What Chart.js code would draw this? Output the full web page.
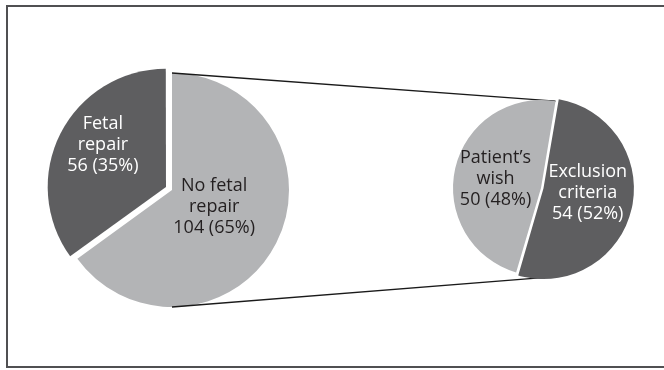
<!DOCTYPE html>
<html>
<head>
<meta charset="utf-8">
<script src="https://cdn.jsdelivr.net/npm/chart.js@4.4.0/dist/chart.umd.min.js"></script>
<style>
body{margin:0;background:#fff;overflow:hidden;}
#wrap{position:relative;width:664px;height:370px;overflow:hidden;}
#wrap canvas{position:absolute;left:0;top:0;}
#frame{position:absolute;left:6px;top:5px;width:680px;height:363px;border:2px solid #505052;box-sizing:border-box;}
</style>
</head>
<body>
<div id="wrap">
  <div id="frame"></div>
  <canvas id="allPie" width="664" height="370"></canvas>
  <canvas id="whyPie" width="664" height="370"></canvas>
</div>
<script>
// all cases
const allLabels=["No fetal\nrepair","Fetal\nrepair"];
const allCounts=[104,56];
const allPct=[65,35];

// no fetal repair, split by reason
const whyLabels=["Exclusion\ncriteria","Patient\u2019s\nwish"];
const whyCounts=[54,50];
const whyPct=[52,48];

const DARK="#5e5e60";
const LIGHT="#b3b4b6";
const INK="#231f20";

// text inside the slices, placed from each arc's centre point
const sliceText={
    id:"sliceText",
    afterDatasetsDraw(chart,args,opts){
        const c=chart.ctx;
        const arcs=chart.getDatasetMeta(0).data;
        const values=chart.data.datasets[0].data;
        c.save();
        c.font="18px 'Open Sans'";
        c.textAlign="center";
        c.textBaseline="middle";
        arcs.forEach((arc,i)=>{
            const p=arc.tooltipPosition();
            const lines=chart.data.labels[i].split("\n");
            lines.push(values[i]+" ("+opts.pct[i]+"%)");
            const cx=p.x+opts.shift[i][0];
            const cy=p.y+opts.shift[i][1];
            c.fillStyle=opts.color[i];
            lines.forEach((t,j)=>{
                c.fillText(t,cx,cy+(j-(lines.length-1)/2)*21);
            });
        });
        c.restore();
    }
};

function arcShift(arc){
    const o=arc.options.offset||0;
    const fix=1-Math.sin(Math.min(Math.PI,arc.circumference||(arc.endAngle-arc.startAngle)));
    const d=o/4*(1+fix);
    const h=(arc.startAngle+arc.endAngle)/2;
    return {x:Math.cos(h)*d,y:Math.sin(h)*d};
}

let allChart;

// lines joining the big pie to the breakdown pie
const connector={
    id:"connector",
    beforeDatasetsDraw(chart){
        if(!allChart) return;
        const a=allChart.getDatasetMeta(0).data[0];
        const b=chart.getDatasetMeta(0).data;
        const c=chart.ctx;
        const top0={x:a.x+a.outerRadius*Math.cos(a.startAngle),y:a.y+a.outerRadius*Math.sin(a.startAngle)};
        const bot0={x:a.x,y:a.y+a.outerRadius};
        const lt=b[1];
        const top1={x:lt.x+lt.outerRadius*Math.cos(lt.endAngle),y:lt.y+lt.outerRadius*Math.sin(lt.endAngle)};
        const dk=b[0];
        const s=arcShift(dk);
        const ang=Math.PI/2-4*Math.PI/180;
        const bot1={x:dk.x+s.x+dk.outerRadius*Math.cos(ang),y:dk.y+s.y+dk.outerRadius*Math.sin(ang)};
        c.save();
        c.strokeStyle="#1a1a1a";
        c.lineWidth=1.3;
        c.beginPath();
        c.moveTo(top0.x,top0.y);c.lineTo(top1.x,top1.y);
        c.moveTo(bot0.x,bot0.y);c.lineTo(bot1.x,bot1.y);
        c.stroke();
        c.restore();
    }
};

allChart=new Chart(document.getElementById("allPie"),{
    type:"pie",
    data:{
        labels:allLabels,
        datasets:[{
            data:allCounts,
            backgroundColor:[LIGHT,DARK],
            borderWidth:0,
            offset:[0,27]
        }]
    },
    options:{
        responsive:false,
        animation:false,
        events:[],
        radius:117,
        rotation:0,
        layout:{padding:{left:42,right:362,top:60,bottom:50}},
        plugins:{
            legend:{display:false},
            tooltip:{enabled:false},
            sliceText:{pct:allPct,shift:[[-10,-10],[-5,-12]],color:[INK,"#ffffff"]}
        }
    },
    plugins:[sliceText]
});

new Chart(document.getElementById("whyPie"),{
    type:"pie",
    data:{
        labels:whyLabels,
        datasets:[{
            data:whyCounts,
            backgroundColor:[DARK,LIGHT],
            borderWidth:0,
            offset:[10,0]
        }]
    },
    options:{
        responsive:false,
        animation:false,
        events:[],
        radius:88,
        rotation:9.5,
        layout:{padding:{left:441,right:23,top:88,bottom:82}},
        plugins:{
            legend:{display:false},
            tooltip:{enabled:false},
            sliceText:{pct:whyPct,shift:[[-1,-6.6],[-2.6,0.5]],color:["#ffffff",INK]}
        }
    },
    plugins:[sliceText,connector]
});
</script>
</body>
</html>
